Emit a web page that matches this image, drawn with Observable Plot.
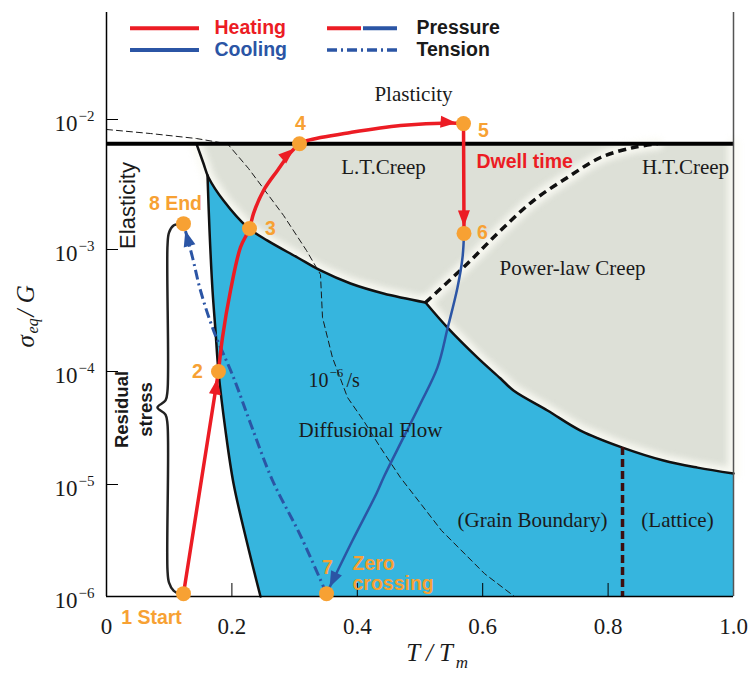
<!DOCTYPE html>
<html><head><meta charset="utf-8">
<script src="https://cdn.jsdelivr.net/npm/d3@7"></script>
<script src="https://cdn.jsdelivr.net/npm/@observablehq/plot@0.6"></script>
<style>body{margin:0;background:#fff}</style>
</head><body><div id="chart"></div>
<script>
// ---------- axis ticks ----------
const yTicks = [1e-6, 1e-5, 1e-4, 1e-3, 1e-2];
const yTickExp = ["−6", "−5", "−4", "−3", "−2"];
const xTicks = [0, 0.2, 0.4, 0.6, 0.8, 1.0];
const xTickLabels = ["0", "0.2", "0.4", "0.6", "0.8", "1.0"];
// calibration of the (hand-drawn) log axis: decades are not equally spaced
const yScaleDomain = [1e-6, 1e-5, 1e-4, 1e-3, 1e-2, 0.0631];
const yScaleRange = [596, 484, 371, 249, 119, 12];

// ---------- map boundaries [T/Tm, sigma/G] ----------
const plasticityLimit = 6.5e-3;
const ltCreepBoundary = [[0.1435,6.5e-3],[0.1547,4.59e-3],[0.1627,3.58e-3],[0.1866,2.38e-3],[0.2249,1.48e-3],[0.2568,1.17e-3],[0.3046,8.6e-4],[0.3413,6.73e-4],[0.3892,5.26e-4],[0.4418,4.36e-4],[0.5088,3.68e-4]];
const plcBoundary = [[0.5088,3.68e-4],[0.5439,2.29e-4],[0.5917,1.30e-4],[0.6284,8.67e-5],[0.6491,6.79e-5],[0.7033,4.52e-5],[0.756,3.0e-5],[0.823,2.12e-5],[0.8884,1.63e-5],[0.9426,1.41e-5],[1.0,1.25e-5]];
const diffusionLeftEdge = [[0.1611,3.71e-3],[0.1643,1.40e-3],[0.1691,4.61e-4],[0.1738,2.17e-4],[0.1786,1.0e-4],[0.1898,3.0e-5],[0.2026,1.02e-5],[0.2233,3.16e-6],[0.2456,1e-6]];
const htCreepBoundary = [[0.5088,3.68e-4],[0.5758,7.68e-4],[0.6284,1.40e-3],[0.681,2.38e-3],[0.7352,3.58e-3],[0.7879,5.10e-3],[0.8405,6.09e-3],[0.8788,6.5e-3]];
const gbLatticeLine = [[0.823,2.12e-5,1e-6]];
const rateContour = [[0,8.38e-3],[0.0702,7.80e-3],[0.1435,7.14e-3],[0.193,6.5e-3],[0.2265,4.20e-3],[0.2823,1.83e-3],[0.319,9.81e-4],[0.3301,7.82e-4],[0.3413,6.24e-4],[0.3445,2.77e-4],[0.3604,1.30e-4],[0.3844,5.89e-5],[0.4099,3.68e-5],[0.437,2.12e-5],[0.4689,1.15e-5],[0.5343,3.88e-6],[0.6029,1.60e-6],[0.6507,1e-6]];

// ---------- thermal cycle ----------
const cyclePoints = [[0.1228,1.06e-6],[0.1786,1.0e-4],[0.2281,1.45e-3],[0.3078,6.5e-3],[0.5694,9.3e-3],[0.5702,1.33e-3],[0.3509,1.06e-6],[0.1228,1.58e-3]];
const heat12 = [[0.1228,1.06e-6],[0.1786,1.0e-4]];
const heat234 = [[0.1786,1.0e-4],[0.185,1.90e-4],[0.1978,4.61e-4],[0.2137,1.04e-3],[0.2281,1.45e-3],[0.2344,1.89e-3],[0.2504,2.84e-3],[0.2727,4.06e-3],[0.2935,5.57e-3],[0.3078,6.5e-3]];
const heat45 = [[0.3078,6.5e-3],[0.3206,6.90e-3],[0.3892,7.94e-3],[0.4689,8.99e-3],[0.5486,9.4e-3],[0.5694,9.3e-3]];
const heat56 = [[0.5694,9.3e-3],[0.5702,1.33e-3]];
const cool67 = [[0.5702,1.33e-3],[0.5678,8.60e-4],[0.5598,4.88e-4],[0.5439,2.25e-4],[0.5279,1.08e-4],[0.5008,5.21e-5],[0.4737,2.61e-5],[0.4434,1.20e-5],[0.4306,8.31e-6],[0.3923,3.16e-6],[0.3509,1.06e-6]];
const tension78 = [[0.3509,1.06e-6],[0.3094,3.50e-6],[0.2648,1.085e-5],[0.2297,3.47e-5],[0.2026,8.85e-5],[0.1707,2.17e-4],[0.1499,4.61e-4],[0.1372,8.60e-4],[0.1228,1.58e-3]];
const residualBrace = [[0.1196,1.58e-3],[0.1069,1.53e-3],[0.0997,1.35e-3],[0.0973,1.07e-3],[0.0973,6.79e-5],[0.0941,5.54e-5],[0.0813,4.80e-5],[0.0941,4.16e-5],[0.0973,3.40e-5],[0.0973,1.71e-6],[0.0997,1.33e-6],[0.1069,1.13e-6],[0.1196,1.04e-6]];

// ---------- labels [text, T/Tm, sigma/G] ----------
const pointLabels = [["1 Start",0.0718,6.5e-7],["2",0.1451,1.0e-4],["3",0.2616,1.45e-3],["4",0.3094,9.3e-3],["5",0.6013,8.23e-3],["6",0.5997,1.35e-3],["7",0.3525,1.81e-6],["8 End",0.11,2.26e-3]];
const zeroLabel = [["Zero\ncrossing",0.3923,1.60e-6]];
const dwellLabel = [["Dwell time",0.5901,4.75e-3]];
const regionLabels = [["Plasticity",0.4896,0.01538],["L.T.Creep",0.4418,4.27e-3],["H.T.Creep",0.9234,4.27e-3],["Power-law Creep",0.7432,6.99e-4],["Diffusional Flow",0.421,3.0e-5],["(Grain Boundary)",0.6794,4.77e-6],["(Lattice)",0.9107,4.77e-6]];
const rateLabel = [["10","−6","/s",0.3541,0.3557,0.3828,8.32e-5]];
const sideLabels = [["Elasticity",0.0335,2.18e-3]];
const braceLabel = [["Residual\nstress",0.0415,4.61e-5]];
const yTitle = [["σ",1.57e-4],["eq",2.05e-4],["/ G",2.82e-4]];
const xTitle = [["T / T",0.478],["m",0.557]];

// ---------- legend ----------
const legendRowY = [0.0482, 0.0331];
const legendLeft = [[0.0383,0.1483]];
const legendRight = [[0.3525,0.4067,0.4099,0.4641]];
const legendText = [["Heating",0.1722,0.0482,"red"],["Cooling",0.1722,0.0331,"blue"],["Pressure",0.4944,0.0482,"dark"],["Tension",0.4944,0.0331,"dark"]];

// ---------- styling ----------
const RED = "#ec1c24", BLUE = "#2b55a5", ORANGE = "#f7a133", GRAY = "#dde0d7", CYAN = "#36b5de", INK = "#1a1a1a";
const SANS = "'Liberation Sans', Arial, sans-serif";
const colorOf = {red: RED, blue: BLUE, dark: INK};

function arrowHead(color, context) {
  const ns = "http://www.w3.org/2000/svg";
  const doc = (context && context.document) || document;
  const m = doc.createElementNS(ns, "marker");
  m.setAttribute("viewBox", "-24 -7 24 14");
  m.setAttribute("markerUnits", "userSpaceOnUse");
  m.setAttribute("markerWidth", 24);
  m.setAttribute("markerHeight", 14);
  m.setAttribute("refX", 0);
  m.setAttribute("refY", 0);
  m.setAttribute("orient", "auto");
  m.setAttribute("overflow", "visible");
  const p = doc.createElementNS(ns, "path");
  p.setAttribute("d", "M-23,-6L-7,0L-23,6Z");
  p.setAttribute("fill", color);
  p.setAttribute("stroke", "none");
  m.appendChild(p);
  return m;
}

const grayPolygon = [...ltCreepBoundary, ...plcBoundary.slice(1), [1.0, plasticityLimit]];
const bluePolygon = [...diffusionLeftEdge, [1.0, 1e-6], ...plcBoundary.slice().reverse(), ...ltCreepBoundary.slice(2).reverse()];
const X = d => d[0], Y = d => d[1];

const plot = Plot.plot({
  width: 748, height: 673,
  marginLeft: 106, marginRight: 15, marginTop: 12, marginBottom: 77,
  style: {fontFamily: "'Liberation Serif', serif", background: "white", overflow: "visible", color: INK},
  x: {domain: [0, 1], axis: null},
  y: {type: "log", domain: yScaleDomain, range: yScaleRange, axis: null},
  marks: [
    // regions
    Plot.line(grayPolygon, {x: X, y: Y, fill: GRAY, stroke: "none"}),
    Plot.line(grayPolygon, {x: X, y: Y, stroke: "#fbfbf4", strokeWidth: 12, strokeOpacity: 0.9, imageFilter: "blur(3px)"}),
    Plot.line(htCreepBoundary, {x: X, y: Y, curve: "catmull-rom", stroke: "#fbfbf4", strokeWidth: 12, strokeOpacity: 0.9, imageFilter: "blur(3px)"}),
    Plot.line(bluePolygon, {x: X, y: Y, fill: CYAN, stroke: "none"}),
    Plot.line(rateContour, {x: X, y: Y, stroke: INK, strokeWidth: 1, strokeDasharray: "6,4"}),
    Plot.line(ltCreepBoundary, {x: X, y: Y, curve: "catmull-rom", stroke: "#111", strokeWidth: 2.5}),
    Plot.line(plcBoundary, {x: X, y: Y, curve: "catmull-rom", stroke: "#111", strokeWidth: 2.5}),
    Plot.line(diffusionLeftEdge, {x: X, y: Y, curve: "catmull-rom", stroke: "#111", strokeWidth: 2.5}),
    Plot.line(htCreepBoundary, {x: X, y: Y, curve: "catmull-rom", stroke: "#111", strokeWidth: 3.5, strokeDasharray: "8,5", strokeLinecap: "butt"}),
    Plot.ruleX(gbLatticeLine, {x: d => d[0], y1: d => d[1], y2: d => d[2], stroke: "#3d0f10", strokeWidth: 3.5, strokeDasharray: "8,4"}),
    Plot.ruleY([plasticityLimit], {stroke: "#000", strokeWidth: 4}),
    // frame & ticks
    Plot.ruleX([0], {stroke: "#000", strokeWidth: 1.5}),
    Plot.ruleX([1], {stroke: "#555", strokeWidth: 1.5}),
    Plot.ruleY([1e-6], {stroke: "#000", strokeWidth: 1.5}),
    Plot.tickY(yTicks.slice(1), {y: d => d, stroke: "#000", insetRight: 615}),
    Plot.tickX(xTicks.slice(1, 5), {x: d => d, stroke: "#000", insetTop: 571}),
    Plot.text(yTicks, {y: d => d, frameAnchor: "left", dx: -29, dy: 4, textAnchor: "end", text: () => "10", fontSize: 23}),
    Plot.text(yTicks, {y: d => d, frameAnchor: "left", dx: -28, dy: -3, textAnchor: "start", text: (d, i) => yTickExp[i], fontSize: 15}),
    Plot.text(xTicks, {x: d => d, frameAnchor: "bottom", dy: 37, text: (d, i) => xTickLabels[i], fontSize: 23}),
    Plot.text(yTitle.slice(0, 1), {y: d => d[1], text: d => d[0], frameAnchor: "left", dx: -81, rotate: -90, textAnchor: "start", fontSize: 25, fontStyle: "italic"}),
    Plot.text(yTitle.slice(1, 2), {y: d => d[1], text: d => d[0], frameAnchor: "left", dx: -74, rotate: -90, textAnchor: "start", fontSize: 16, fontStyle: "italic"}),
    Plot.text(yTitle.slice(2), {y: d => d[1], text: d => d[0], frameAnchor: "left", dx: -81, rotate: -90, textAnchor: "start", fontSize: 25, fontStyle: "italic"}),
    Plot.text(xTitle.slice(0, 1), {x: d => d[1], text: d => d[0], frameAnchor: "bottom", dy: 64, textAnchor: "start", fontSize: 25, fontStyle: "italic"}),
    Plot.text(xTitle.slice(1), {x: d => d[1], text: d => d[0], frameAnchor: "bottom", dy: 71, textAnchor: "start", fontSize: 17, fontStyle: "italic"}),
    // brace
    Plot.line(residualBrace, {x: X, y: Y, curve: "catmull-rom", stroke: "#222", strokeWidth: 2.5}),
    // thermal cycle paths
    Plot.line(tension78, {x: X, y: Y, curve: "catmull-rom", stroke: BLUE, strokeWidth: 3, strokeDasharray: "10,4,2,4", strokeLinecap: "butt", markerEnd: arrowHead}),
    Plot.line(cool67, {x: X, y: Y, curve: "catmull-rom", stroke: BLUE, strokeWidth: 2.5, markerEnd: arrowHead}),
    Plot.line(heat12, {x: X, y: Y, stroke: RED, strokeWidth: 3.5, markerEnd: arrowHead}),
    Plot.line(heat234, {x: X, y: Y, curve: "catmull-rom", stroke: RED, strokeWidth: 3.5, markerEnd: arrowHead}),
    Plot.line(heat45, {x: X, y: Y, curve: "catmull-rom", stroke: RED, strokeWidth: 3.5, markerEnd: arrowHead}),
    Plot.line(heat56, {x: X, y: Y, stroke: RED, strokeWidth: 3.5, markerEnd: arrowHead}),
    Plot.dot(cyclePoints, {x: X, y: Y, r: 7.5, fill: ORANGE}),
    // labels
    Plot.text(pointLabels, {x: d => d[1], y: d => d[2], text: d => d[0], fill: ORANGE, fontFamily: SANS, fontWeight: "bold", fontSize: 19.5}),
    Plot.text(zeroLabel, {x: d => d[1], y: d => d[2], text: d => d[0], fill: ORANGE, fontFamily: SANS, fontWeight: "bold", fontSize: 19.5, textAnchor: "start", lineHeight: 1.05}),
    Plot.text(dwellLabel, {x: d => d[1], y: d => d[2], text: d => d[0], fill: RED, fontFamily: SANS, fontWeight: "bold", fontSize: 19.5, textAnchor: "start"}),
    Plot.text(regionLabels, {x: d => d[1], y: d => d[2], text: d => d[0], fill: INK, fontSize: 21}),
    Plot.text(rateLabel, {x: d => d[3], y: d => d[6], text: d => d[0], fill: INK, fontSize: 20, textAnchor: "end"}),
    Plot.text(rateLabel, {x: d => d[4], y: d => d[6], text: d => d[1], fill: INK, fontSize: 13, textAnchor: "start", dy: -8}),
    Plot.text(rateLabel, {x: d => d[5], y: d => d[6], text: d => d[2], fill: INK, fontSize: 20, textAnchor: "start"}),
    Plot.text(sideLabels, {x: d => d[1], y: d => d[2], text: d => d[0], rotate: -90, fill: INK, fontFamily: SANS, fontSize: 22}),
    Plot.text(braceLabel, {x: d => d[1], y: d => d[2], text: d => d[0], rotate: -90, fill: INK, fontFamily: SANS, fontWeight: "bold", fontSize: 18.5, lineHeight: 1.3}),
    // legend
    Plot.ruleY(legendLeft, {y: () => legendRowY[0], x1: d => d[0], x2: d => d[1], stroke: RED, strokeWidth: 4}),
    Plot.ruleY(legendLeft, {y: () => legendRowY[1], x1: d => d[0], x2: d => d[1], stroke: BLUE, strokeWidth: 4}),
    Plot.ruleY(legendRight, {y: () => legendRowY[0], x1: d => d[0], x2: d => d[1], stroke: RED, strokeWidth: 4}),
    Plot.ruleY(legendRight, {y: () => legendRowY[0], x1: d => d[2], x2: d => d[3], stroke: BLUE, strokeWidth: 4}),
    Plot.ruleY(legendRight, {y: () => legendRowY[1], x1: d => d[0], x2: d => d[3], stroke: BLUE, strokeWidth: 3.5, strokeDasharray: "10,4,2,4"}),
    Plot.text(legendText, {x: d => d[1], y: d => d[2], text: d => d[0], fill: d => colorOf[d[3]], fontFamily: SANS, fontWeight: "bold", fontSize: 19.5, textAnchor: "start"})
  ]
});
document.getElementById("chart").appendChild(plot);
</script></body></html>
